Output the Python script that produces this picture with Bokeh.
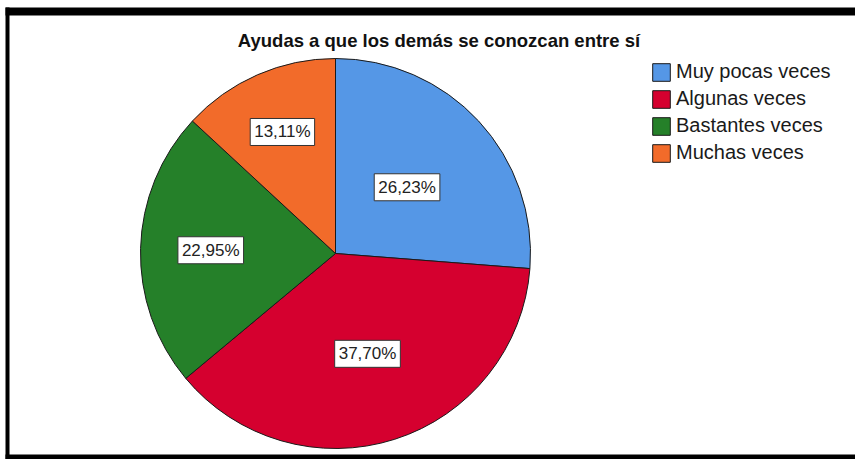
import math
from bokeh.plotting import figure
from bokeh.models import ColumnDataSource, Range1d, Label, Legend, LegendItem, BoxAnnotation
from bokeh.embed import file_html
from bokeh.resources import INLINE

# ---- data ----
title_text = "Ayudas a que los demás se conozcan entre sí"
categories = ["Muy pocas veces", "Algunas veces", "Bastantes veces", "Muchas veces"]
percentages = [26.23, 37.70, 22.95, 13.11]
label_texts = ["26,23%", "37,70%", "22,95%", "13,11%"]
colors = ["#5597e6", "#d5002f", "#258029", "#f26b2a"]

# ---- layout (1 data unit = 1 px, y upward) ----
W, H = 855, 459
cx, cy, R = 335, 206, 195
label_frac = [0.50, 0.54, 0.64, 0.68]

total = sum(percentages)
starts, ends, mids = [], [], []
cum = 0.0
for v in percentages:
    a0 = math.pi / 2 - 2 * math.pi * cum / total
    cum += v
    a1 = math.pi / 2 - 2 * math.pi * cum / total
    starts.append(a0)
    ends.append(a1)
    mids.append((a0 + a1) / 2)

src = ColumnDataSource(dict(cat=categories, start=starts, end=ends, color=colors))

p = figure(width=W, height=H, output_backend="svg", toolbar_location=None,
           x_range=Range1d(0, W), y_range=Range1d(0, H),
           x_axis_location=None, y_axis_location=None,
           min_border=0)
p.title.visible = False
p.grid.visible = False
p.border_fill_color = "white"
p.background_fill_color = "white"
p.outline_line_color = None

# black frame of the screenshot
frame_kw = dict(fill_color="black", fill_alpha=1, line_color=None)
p.add_layout(BoxAnnotation(left=5, right=W, bottom=444, top=452, **frame_kw))
p.add_layout(BoxAnnotation(left=5, right=9, bottom=0, top=452, **frame_kw))
p.add_layout(BoxAnnotation(left=5, right=W, bottom=0, top=5, **frame_kw))

r = p.wedge(x=cx, y=cy, radius=R, start_angle="start", end_angle="end",
            direction="clock", fill_color="color", line_color="#1a1a1a",
            line_width=1, source=src)

for txt, m, f in zip(label_texts, mids, label_frac):
    p.add_layout(Label(x=cx + f * R * math.cos(m), y=cy + f * R * math.sin(m),
                       text=txt, text_align="center", text_baseline="middle",
                       text_font="Liberation Sans", text_font_size="17px", text_color="#222222",
                       background_fill_color="white", border_line_color="#333333",
                       border_line_width=1, padding=4))

p.add_layout(Label(x=438.5, y=419, text=title_text, text_align="center", text_baseline="middle",
                   text_font="Liberation Sans", text_font_style="bold", text_font_size="18.5px",
                   text_color="#111111"))

items = [LegendItem(label=c, renderers=[r], index=i) for i, c in enumerate(categories)]
legend = Legend(items=items, location=(650, 295), padding=0, margin=0,
                border_line_color=None, background_fill_alpha=0,
                glyph_width=22, glyph_height=22, label_height=22, spacing=4,
                label_standoff=4, label_text_font="Liberation Sans",
                label_text_font_size="20px", label_text_color="#1a1a1a")
p.add_layout(legend)

open("out.html", "w").write(file_html(p, INLINE))
